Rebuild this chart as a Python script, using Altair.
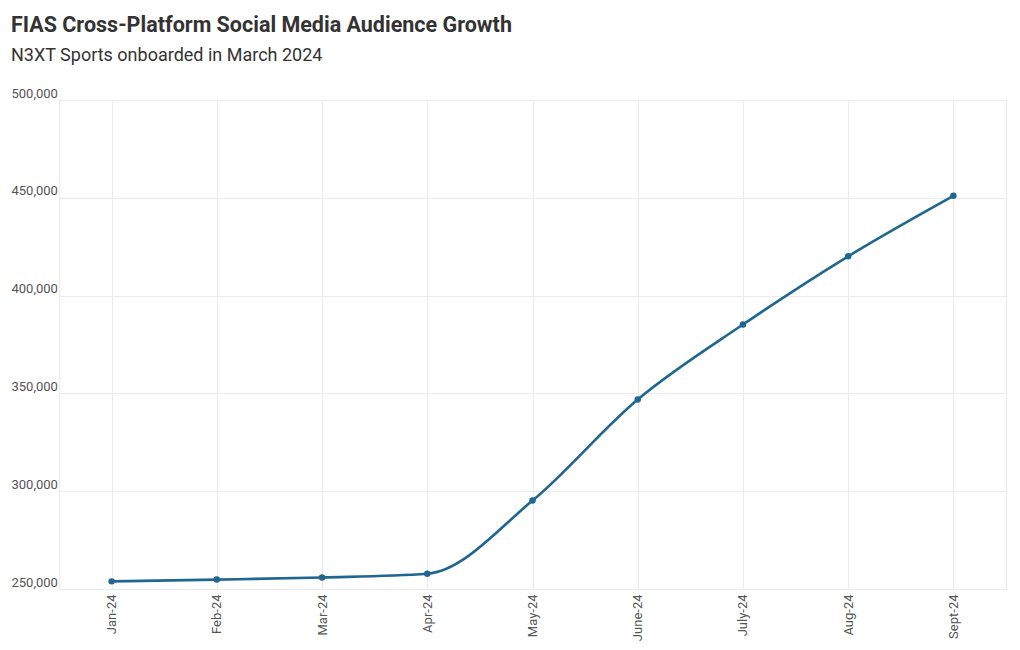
import altair as alt
import pandas as pd

months = ["Jan-24", "Feb-24", "Mar-24", "Apr-24", "May-24", "June-24", "July-24", "Aug-24", "Sept-24"]
audience = [253900, 254800, 255900, 257800, 295200, 346900, 385200, 420100, 451000]
y_ticks = [250000, 300000, 350000, 400000, 450000, 500000]

df = pd.DataFrame({"month": months, "audience": audience})

FONT = "Roboto"
LINE = "#1f6690"

x = alt.X("month:O", sort=months, title=None,
          scale=alt.Scale(type="point", padding=0.5),
          axis=alt.Axis(labelAngle=-90, labelAlign="right", labelBaseline="middle",
                        labelFontSize=13, labelColor="#555555", labelFont=FONT,
                        ticks=False, domain=False, labelPadding=5,
                        grid=True, gridColor="#ebebeb"))
y = alt.Y("audience:Q", title=None,
          scale=alt.Scale(domain=[250000, 500000], nice=False, zero=False),
          axis=alt.Axis(values=y_ticks, format=",.0f", labelFontSize=13, labelColor="#555555",
                        labelFont=FONT, ticks=False, domain=False, labelAlign="left",
                        labelBaseline="bottom", labelPadding=48, labelFlush=False,
                        grid=True, gridColor="#ebebeb"))

base = alt.Chart(df).encode(x=x, y=y)
line = base.mark_line(interpolate="monotone", color=LINE, strokeWidth=2.6)
pts = base.mark_circle(color=LINE, size=42, opacity=1)

chart = (line + pts).properties(
    width=947, height=489,
    title=alt.TitleParams(
        text="FIAS Cross-Platform Social Media Audience Growth",
        subtitle="N3XT Sports onboarded in March 2024",
        anchor="start", font=FONT, fontSize=21.5, fontWeight="bold", color="#333333",
        subtitleFont=FONT, subtitleFontSize=18, subtitleColor="#333333",
        subtitlePadding=11, offset=22,
    ),
    autosize=alt.AutoSizeParams(type="none"),
    padding={"left": 51, "top": 92, "right": 6, "bottom": 53},
).configure_view(stroke="#ebebeb", strokeWidth=1)

chart.save("out.html", embed_options={"renderer": "svg", "actions": False})
